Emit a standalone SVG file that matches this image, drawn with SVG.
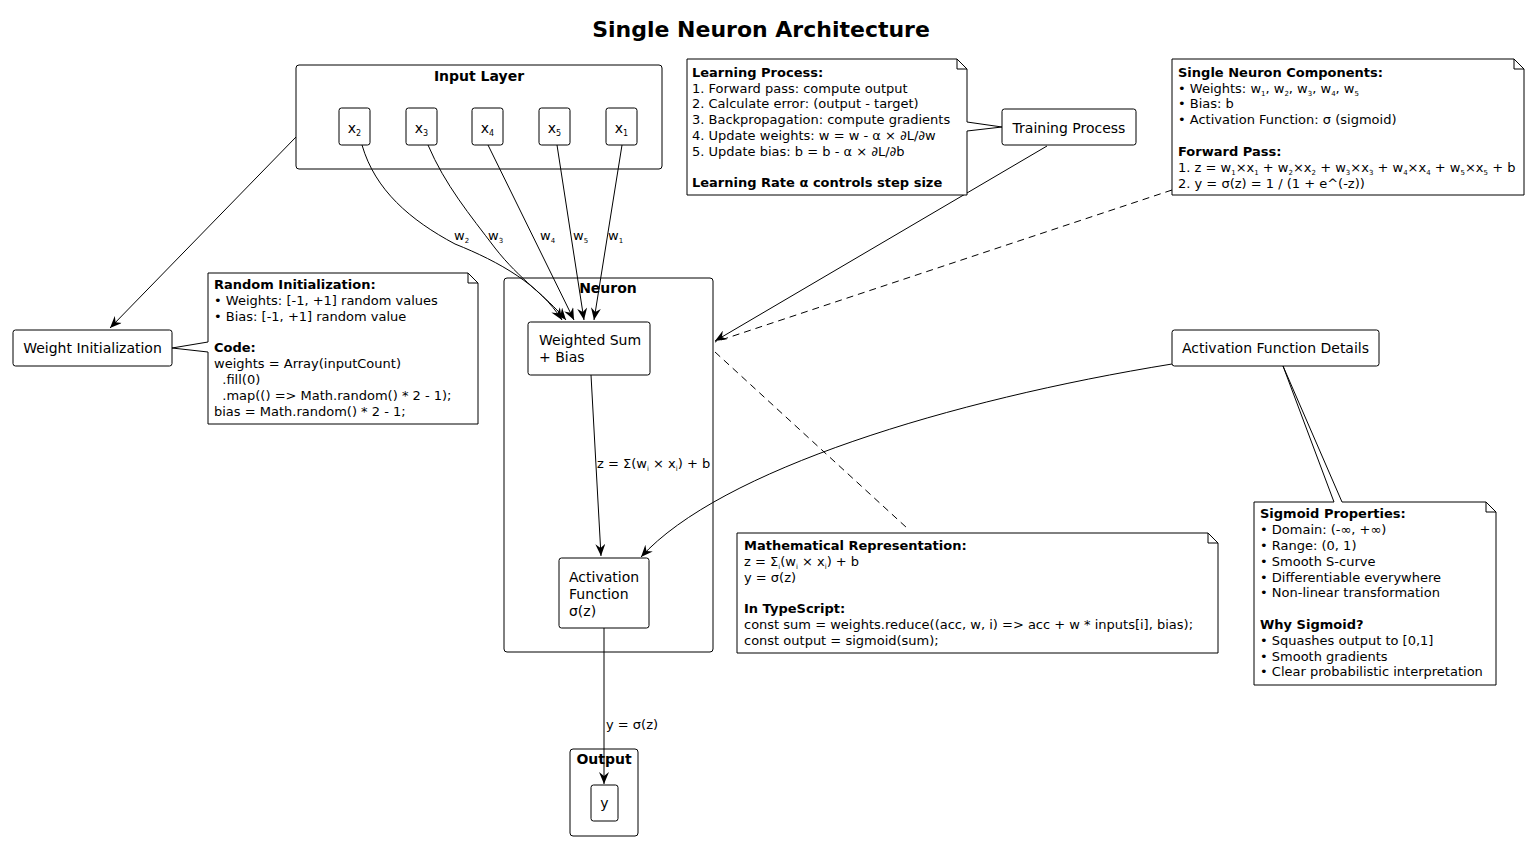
<svg xmlns="http://www.w3.org/2000/svg" width="1530" height="842" viewBox="0 0 1530 842">
<defs>
<marker id="arr" viewBox="0 0 12 10" refX="12" refY="5" markerWidth="12" markerHeight="10" markerUnits="userSpaceOnUse" orient="auto">
<path d="M0,0 L12,5 L0,10 L4,5 Z" fill="#000"/>
</marker>
</defs>
<style>
text{font-family:"DejaVu Sans","Liberation Sans",sans-serif;fill:#000}
.title{font-size:22px;font-weight:bold}
.ft{font-size:14px;font-weight:bold}
.frame{fill:none;stroke:#000;stroke-width:1}
.node{fill:#fff;stroke:#000;stroke-width:1}
.nt{font-size:14px}
.note{fill:#fff;stroke:#000;stroke-width:1}
.fold{fill:none;stroke:#000;stroke-width:1}
.n{font-size:13px}
.b{font-weight:bold}
.el{font-size:13px}
.edge{fill:none;stroke:#000;stroke-width:1}
.dash{fill:none;stroke:#000;stroke-width:1;stroke-dasharray:7,5}
</style>
<rect width="1530" height="842" fill="#fff"/>
<text class="title" x="761" y="37" text-anchor="middle">Single Neuron Architecture</text>

<g id="input-layer">
<rect class="frame" x="296" y="65" width="366" height="104" rx="3"/>
<text class="ft" x="479" y="81" text-anchor="middle">Input Layer</text>
</g>
<g id="x2"><rect class="node" x="339" y="108" width="31" height="37" rx="2.5"/><text class="nt" x="354.5" y="133" text-anchor="middle">x<tspan font-size="8" dy="3">2</tspan></text></g>
<g id="x3"><rect class="node" x="406" y="108" width="31" height="37" rx="2.5"/><text class="nt" x="421.5" y="133" text-anchor="middle">x<tspan font-size="8" dy="3">3</tspan></text></g>
<g id="x4"><rect class="node" x="472" y="108" width="31" height="37" rx="2.5"/><text class="nt" x="487.5" y="133" text-anchor="middle">x<tspan font-size="8" dy="3">4</tspan></text></g>
<g id="x5"><rect class="node" x="539" y="108" width="31" height="37" rx="2.5"/><text class="nt" x="554.5" y="133" text-anchor="middle">x<tspan font-size="8" dy="3">5</tspan></text></g>
<g id="x1"><rect class="node" x="606" y="108" width="31" height="37" rx="2.5"/><text class="nt" x="621.5" y="133" text-anchor="middle">x<tspan font-size="8" dy="3">1</tspan></text></g>

<g id="neuron">
<rect class="frame" x="504" y="278" width="209" height="374" rx="3"/>
<text class="ft" x="608" y="293" text-anchor="middle">Neuron</text>
</g>
<g id="weighted-sum"><rect class="node" x="528" y="322" width="122" height="53" rx="2.5"/><text class="nt" x="539" y="345">Weighted Sum</text><text class="nt" x="539" y="362">+ Bias</text></g>
<g id="activation"><rect class="node" x="559" y="558" width="90" height="70" rx="2.5"/><text class="nt" x="569" y="582">Activation</text><text class="nt" x="569" y="599">Function</text><text class="nt" x="569" y="616">σ(z)</text></g>

<g id="output">
<rect class="frame" x="570" y="749" width="68" height="87" rx="3"/>
<text class="ft" x="604" y="764" text-anchor="middle">Output</text>
</g>
<g id="y"><rect class="node" x="591" y="785" width="27" height="36" rx="2.5"/><text class="nt" x="604.5" y="808" text-anchor="middle">y</text></g>

<g id="weight-init"><rect class="node" x="13" y="330" width="159" height="36" rx="2.5"/><text class="nt" x="92.5" y="353" text-anchor="middle">Weight Initialization</text></g>
<g id="training"><rect class="node" x="1002" y="109" width="134" height="36" rx="2.5"/><text class="nt" x="1069" y="133" text-anchor="middle">Training Process</text></g>
<g id="act-details"><rect class="node" x="1172" y="330" width="207" height="36" rx="2.5"/><text class="nt" x="1275.5" y="353" text-anchor="middle">Activation Function Details</text></g>

<g id="connectors">
<path class="edge" d="M362,145 C375,190 410,220 455,244 C500,262 540,285 562,320" marker-end="url(#arr)"/>
<path class="edge" d="M428,145 C445,185 470,215 495,248 C520,280 545,295 566,320" marker-end="url(#arr)"/>
<path class="edge" d="M488,145 L574,320" marker-end="url(#arr)"/>
<path class="edge" d="M557,145 L584,320" marker-end="url(#arr)"/>
<path class="edge" d="M622,145 L594,320" marker-end="url(#arr)"/>
<text class="el" x="454" y="240">w<tspan font-size="7" dy="3">2</tspan></text>
<text class="el" x="488" y="240">w<tspan font-size="7" dy="3">3</tspan></text>
<text class="el" x="540" y="240">w<tspan font-size="7" dy="3">4</tspan></text>
<text class="el" x="573" y="240">w<tspan font-size="7" dy="3">5</tspan></text>
<text class="el" x="608" y="240">w<tspan font-size="7" dy="3">1</tspan></text>
<path class="edge" d="M591,375 L601,556" marker-end="url(#arr)"/>
<text class="el" x="597" y="468">z = Σ(w<tspan font-size="7" dy="3">i</tspan><tspan dy="-3"> × x</tspan><tspan font-size="7" dy="3">i</tspan><tspan dy="-3">) + b</tspan></text>
<path class="edge" d="M604,628 L604,784" marker-end="url(#arr)"/>
<text class="el" x="606" y="729">y = σ(z)</text>
<path class="edge" d="M296,137 L110,328" marker-end="url(#arr)"/>
<path class="edge" d="M1047,146 L715,341" marker-end="url(#arr)"/>
<path class="edge" d="M1172,364 C950,400 720,470 641,557" marker-end="url(#arr)"/>
<path class="dash" d="M1172,190 L715,342"/>
<path class="dash" d="M715,352 L907,528"/>
</g>

<g id="note-learning">
<path class="note" d="M687,59 L957,59 L967,69 L967,122 L1002,127 L967,131 L967,195 L687,195 Z"/>
<path class="fold" d="M957,59 L957,69 L967,69"/>
<text class="n b" x="692" y="77">Learning Process:</text>
<text class="n" x="692" y="93">1. Forward pass: compute output</text>
<text class="n" x="692" y="108">2. Calculate error: (output - target)</text>
<text class="n" x="692" y="124">3. Backpropagation: compute gradients</text>
<text class="n" x="692" y="140">4. Update weights: w = w - α × ∂L/∂w</text>
<text class="n" x="692" y="156">5. Update bias: b = b - α × ∂L/∂b</text>
<text class="n b" x="692" y="187">Learning Rate α controls step size</text>
</g>

<g id="note-components">
<path class="note" d="M1172,59 L1514,59 L1524,69 L1524,195 L1172,195 Z"/>
<path class="fold" d="M1514,59 L1514,69 L1524,69"/>
<text class="n b" x="1178" y="77">Single Neuron Components:</text>
<text class="n" x="1178" y="93">• Weights: w<tspan font-size="7" dy="3">1</tspan><tspan dy="-3">, w</tspan><tspan font-size="7" dy="3">2</tspan><tspan dy="-3">, w</tspan><tspan font-size="7" dy="3">3</tspan><tspan dy="-3">, w</tspan><tspan font-size="7" dy="3">4</tspan><tspan dy="-3">, w</tspan><tspan font-size="7" dy="3">5</tspan></text>
<text class="n" x="1178" y="108">• Bias: b</text>
<text class="n" x="1178" y="124">• Activation Function: σ (sigmoid)</text>
<text class="n b" x="1178" y="156">Forward Pass:</text>
<text class="n" x="1178" y="172">1. z = w<tspan font-size="7" dy="3">1</tspan><tspan dy="-3">×x</tspan><tspan font-size="7" dy="3">1</tspan><tspan dy="-3"> + w</tspan><tspan font-size="7" dy="3">2</tspan><tspan dy="-3">×x</tspan><tspan font-size="7" dy="3">2</tspan><tspan dy="-3"> + w</tspan><tspan font-size="7" dy="3">3</tspan><tspan dy="-3">×x</tspan><tspan font-size="7" dy="3">3</tspan><tspan dy="-3"> + w</tspan><tspan font-size="7" dy="3">4</tspan><tspan dy="-3">×x</tspan><tspan font-size="7" dy="3">4</tspan><tspan dy="-3"> + w</tspan><tspan font-size="7" dy="3">5</tspan><tspan dy="-3">×x</tspan><tspan font-size="7" dy="3">5</tspan><tspan dy="-3"> + b</tspan></text>
<text class="n" x="1178" y="188">2. y = σ(z) = 1 / (1 + e^(-z))</text>
</g>

<g id="note-random">
<path class="note" d="M208,273 L468,273 L478,283 L478,424 L208,424 L208,352 L172,348 L208,342 Z"/>
<path class="fold" d="M468,273 L468,283 L478,283"/>
<text class="n b" x="214" y="289">Random Initialization:</text>
<text class="n" x="214" y="305">• Weights: [-1, +1] random values</text>
<text class="n" x="214" y="321">• Bias: [-1, +1] random value</text>
<text class="n b" x="214" y="352">Code:</text>
<text class="n" x="214" y="368">weights = Array(inputCount)</text>
<text class="n" x="214" y="384" xml:space="preserve">  .fill(0)</text>
<text class="n" x="214" y="400" xml:space="preserve">  .map(() =&gt; Math.random() * 2 - 1);</text>
<text class="n" x="214" y="416">bias = Math.random() * 2 - 1;</text>
</g>

<g id="note-math">
<path class="note" d="M737,533 L1208,533 L1218,543 L1218,653 L737,653 Z"/>
<path class="fold" d="M1208,533 L1208,543 L1218,543"/>
<text class="n b" x="744" y="550">Mathematical Representation:</text>
<text class="n" x="744" y="566">z = Σ<tspan font-size="7" dy="3">i</tspan><tspan dy="-3">(w</tspan><tspan font-size="7" dy="3">i</tspan><tspan dy="-3"> × x</tspan><tspan font-size="7" dy="3">i</tspan><tspan dy="-3">) + b</tspan></text>
<text class="n" x="744" y="582">y = σ(z)</text>
<text class="n b" x="744" y="613">In TypeScript:</text>
<text class="n" x="744" y="629">const sum = weights.reduce((acc, w, i) =&gt; acc + w * inputs[i], bias);</text>
<text class="n" x="744" y="645">const output = sigmoid(sum);</text>
</g>

<g id="note-sigmoid">
<path class="note" d="M1254,502 L1334,502 L1283,366 L1342,502 L1486,502 L1496,512 L1496,685 L1254,685 Z"/>
<path class="fold" d="M1486,502 L1486,512 L1496,512"/>
<text class="n b" x="1260" y="518">Sigmoid Properties:</text>
<text class="n" x="1260" y="534">• Domain: (-∞, +∞)</text>
<text class="n" x="1260" y="550">• Range: (0, 1)</text>
<text class="n" x="1260" y="566">• Smooth S-curve</text>
<text class="n" x="1260" y="582">• Differentiable everywhere</text>
<text class="n" x="1260" y="597">• Non-linear transformation</text>
<text class="n b" x="1260" y="629">Why Sigmoid?</text>
<text class="n" x="1260" y="645">• Squashes output to [0,1]</text>
<text class="n" x="1260" y="661">• Smooth gradients</text>
<text class="n" x="1260" y="676">• Clear probabilistic interpretation</text>
</g>
</svg>
